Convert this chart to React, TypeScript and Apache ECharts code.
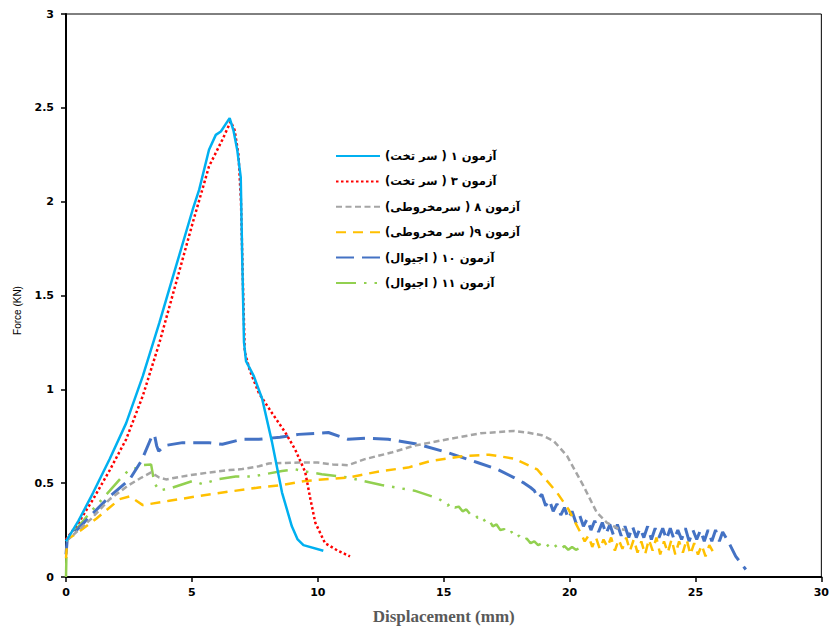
import React, { useEffect, useRef } from "react";
import * as echarts from "echarts";

const xTicks = { min: 0, max: 30, interval: 5 };
const yTicks = { min: 0, max: 3, interval: 0.5 };

const seriesNames = [
  "آزمون ۱ ( سر تخت)\u200F",
  "آزمون ۳ ( سر تخت)\u200F",
  "آزمون ۸ ( سرمخروطی)\u200F",
  "آزمون ۹( سر مخروطی)\u200F",
  "آزمون ۱۰ ( اجیوال)\u200F",
  "آزمون ۱۱ ( اجیوال)\u200F",
];

const test1: [number, number][] = [
  [0, 0.19], [0.5, 0.3], [1.08, 0.45], [1.74, 0.63], [2.39, 0.82], [3.05, 1.07],
  [3.71, 1.355], [4.37, 1.656], [5.03, 1.957], [5.29, 2.064], [5.68, 2.277], [5.95, 2.356],
  [6.15, 2.374], [6.5, 2.445], [6.65, 2.38], [6.8, 2.277], [6.94, 2.13], [7.0, 1.69],
  [7.07, 1.25], [7.15, 1.15], [7.46, 1.07], [7.79, 0.95], [8.18, 0.72], [8.58, 0.45],
  [8.97, 0.27], [9.2, 0.2], [9.43, 0.17], [10.22, 0.14],
];

const test3: [number, number][] = [
  [0, 0.2], [0.5, 0.29], [1.08, 0.415], [1.74, 0.57], [2.39, 0.734], [3.05, 0.965],
  [3.71, 1.248], [4.37, 1.567], [5.03, 1.886], [5.68, 2.188], [6.21, 2.33], [6.54, 2.427],
  [6.7, 2.38], [6.85, 2.25], [6.95, 2.0], [7.02, 1.6], [7.1, 1.2], [7.3, 1.1], [7.66, 0.98],
  [8.2, 0.87], [8.71, 0.77], [9.1, 0.68], [9.5, 0.56], [9.7, 0.42], [9.9, 0.29],
  [10.29, 0.18], [10.8, 0.14], [11.28, 0.11],
];

const test8: [number, number][] = [
  [0, 0.19], [0.5, 0.25], [1.0, 0.31], [1.74, 0.415], [2.5, 0.49], [3.0, 0.53],
  [3.38, 0.557], [3.7, 0.53], [3.97, 0.52], [4.8, 0.54], [5.68, 0.557], [6.5, 0.57],
  [7.0, 0.575], [7.66, 0.59], [8.05, 0.605], [9.24, 0.61], [10.0, 0.61], [10.6, 0.6],
  [11.2, 0.596], [11.87, 0.628], [12.92, 0.663], [13.84, 0.7], [15.16, 0.734],
  [16.47, 0.766], [17.79, 0.778], [18.32, 0.77], [18.9, 0.755], [19.37, 0.725],
  [19.9, 0.645], [20.55, 0.486], [21.08, 0.344], [21.48, 0.29], [21.9, 0.26], [22.2, 0.25],
];

const test9: [number, number][] = [
  [0, 0.1], [0.05, 0.2], [0.5, 0.24], [1.2, 0.31], [2.13, 0.415], [2.53, 0.43],
  [2.75, 0.41], [3.05, 0.383], [4.1, 0.406], [5.68, 0.44], [7.66, 0.477], [8.58, 0.49],
  [9.5, 0.512], [11.2, 0.53], [12.53, 0.565], [13.58, 0.583], [14.5, 0.619],
  [15.82, 0.645], [16.8, 0.652], [17.79, 0.631], [18.71, 0.574], [19.5, 0.45],
  [19.96, 0.36], [20.42, 0.24], [20.6, 0.19], [20.75, 0.22], [20.9, 0.16], [21.05, 0.21],
  [21.2, 0.15], [21.35, 0.2], [21.5, 0.16], [21.65, 0.21], [21.8, 0.14], [21.95, 0.2],
  [22.1, 0.15], [22.25, 0.21], [22.4, 0.14], [22.55, 0.2], [22.7, 0.13], [22.85, 0.19],
  [23.0, 0.12], [23.15, 0.2], [23.3, 0.14], [23.45, 0.21], [23.6, 0.12], [23.75, 0.19],
  [23.9, 0.13], [24.05, 0.2], [24.2, 0.12], [24.35, 0.19], [24.5, 0.13], [24.65, 0.2],
  [24.8, 0.12], [24.95, 0.18], [25.1, 0.12], [25.25, 0.17], [25.4, 0.11], [25.55, 0.17],
  [25.8, 0.11],
];

const test10: [number, number][] = [
  [0, 0.12], [0.05, 0.2], [0.5, 0.26], [1.0, 0.33], [1.74, 0.43], [2.53, 0.52],
  [3.0, 0.62], [3.38, 0.74], [3.51, 0.76], [3.6, 0.7], [3.68, 0.67], [3.91, 0.7],
  [4.63, 0.716], [5.68, 0.716], [6.21, 0.707], [7.0, 0.734], [7.66, 0.734], [8.5, 0.745],
  [9.24, 0.76], [9.9, 0.765], [10.42, 0.77], [11.2, 0.734], [12.0, 0.74], [12.8, 0.734],
  [13.98, 0.707], [15.16, 0.663], [16.34, 0.61], [17.13, 0.574], [17.79, 0.53],
  [18.2, 0.5], [18.45, 0.477], [18.6, 0.46], [18.75, 0.42], [18.9, 0.44], [19.05, 0.38],
  [19.2, 0.41], [19.35, 0.35], [19.5, 0.39], [19.65, 0.33], [19.8, 0.37], [19.95, 0.31],
  [20.1, 0.35], [20.25, 0.29], [20.4, 0.33], [20.55, 0.27], [20.7, 0.31], [20.85, 0.25],
  [21.0, 0.3], [21.15, 0.24], [21.3, 0.29], [21.45, 0.23], [21.6, 0.28], [21.75, 0.22],
  [21.9, 0.28], [22.05, 0.22], [22.2, 0.27], [22.35, 0.21], [22.5, 0.27], [22.65, 0.21],
  [22.8, 0.26], [22.95, 0.21], [23.1, 0.27], [23.25, 0.2], [23.4, 0.26], [23.55, 0.21],
  [23.7, 0.26], [23.85, 0.2], [24.0, 0.26], [24.15, 0.2], [24.3, 0.25], [24.45, 0.2],
  [24.6, 0.26], [24.75, 0.19], [24.9, 0.25], [25.05, 0.2], [25.2, 0.25], [25.35, 0.19],
  [25.5, 0.25], [25.65, 0.19], [25.8, 0.25], [25.95, 0.19], [26.08, 0.24], [26.3, 0.19],
  [26.6, 0.11], [27.0, 0.04],
];

const test11: [number, number][] = [
  [0, 0], [0.03, 0.2], [0.5, 0.27], [1.0, 0.35], [1.74, 0.46], [2.2, 0.53],
  [2.53, 0.574], [2.8, 0.58], [3.0, 0.595], [3.38, 0.6], [3.51, 0.5], [3.71, 0.46],
  [4.24, 0.477], [5.03, 0.512], [5.42, 0.495], [6.0, 0.52], [6.74, 0.535], [7.4, 0.535],
  [8.58, 0.565], [9.1, 0.574], [9.6, 0.56], [10.16, 0.548], [11.2, 0.53], [12.53, 0.49],
  [13.84, 0.46], [14.77, 0.419], [15.0, 0.4], [15.15, 0.38], [15.3, 0.395], [15.45, 0.37],
  [15.6, 0.375], [15.75, 0.35], [15.9, 0.36], [16.05, 0.335], [16.2, 0.34], [16.35, 0.315],
  [16.5, 0.325], [16.65, 0.295], [16.8, 0.305], [16.95, 0.27], [17.1, 0.28], [17.25, 0.25],
  [17.4, 0.255], [17.55, 0.23], [17.7, 0.24], [17.85, 0.21], [18.0, 0.22], [18.15, 0.195],
  [18.3, 0.205], [18.45, 0.18], [18.6, 0.19], [18.75, 0.17], [18.9, 0.18], [19.05, 0.16],
  [19.2, 0.175], [19.35, 0.155], [19.5, 0.17], [19.65, 0.15], [19.8, 0.165], [19.95, 0.145],
  [20.1, 0.16], [20.25, 0.145], [20.42, 0.155],
];

const seriesData = [test1, test3, test8, test9, test10, test11];
const seriesColors = ["#00B0F0", "#FF0000", "#A5A5A5", "#FFC000", "#4472C4", "#92D050"];
const seriesWidths = [2.5, 2.5, 2.5, 2.5, 3, 2.5];
const seriesDash: any[] = [
  "solid",
  [2.5, 2.5],
  [6, 3.5],
  [10, 7],
  [18, 8],
  [20, 8, 2.5, 8, 2.5, 8],
];

export default function App() {
  const ref = useRef<HTMLDivElement>(null);
  useEffect(() => {
    if (!ref.current) return;
    const chart = echarts.init(ref.current, undefined, { renderer: "svg" });
    chart.setOption({
      animation: false,
      backgroundColor: "#ffffff",
      grid: {
        left: 66,
        right: 6,
        top: 14,
        bottom: 52,
        show: true,
        borderColor: "#000",
        borderWidth: 1,
        backgroundColor: "transparent",
      },
      legend: {
        orient: "vertical",
        left: 335,
        top: 150,
        padding: 0,
        itemWidth: 44,
        itemHeight: 14,
        itemGap: 13.4,
        itemStyle: { opacity: 0 },
        data: seriesNames,
        textStyle: {
          fontFamily: "DejaVu Sans",
          fontSize: 11.5,
          fontWeight: "bold",
          color: "#000",
        },
      },
      xAxis: {
        type: "value",
        min: xTicks.min,
        max: xTicks.max,
        interval: xTicks.interval,
        name: "Displacement (mm)",
        nameLocation: "middle",
        nameGap: 31,
        nameTextStyle: {
          fontFamily: "Liberation Serif",
          fontWeight: "bold",
          fontSize: 17,
          color: "#595959",
        },
        axisLine: { show: true, lineStyle: { color: "#000", width: 2 } },
        axisTick: { show: true, inside: false, length: 5, lineStyle: { color: "#000", width: 1.5 } },
        axisLabel: {
          margin: 10,
          fontFamily: "DejaVu Sans",
          fontWeight: "bold",
          fontSize: 11,
          color: "#000",
        },
        splitLine: { show: false },
      },
      yAxis: {
        type: "value",
        min: yTicks.min,
        max: yTicks.max,
        interval: yTicks.interval,
        name: "Force (KN)",
        nameLocation: "middle",
        nameGap: 44,
        nameTextStyle: {
          fontFamily: "Liberation Sans Narrow, Liberation Sans",
          fontSize: 10,
          color: "#000",
          padding: [0, 30, 0, 0],
        },
        axisLine: { show: true, lineStyle: { color: "#000", width: 2 } },
        axisTick: { show: true, inside: false, length: 5, lineStyle: { color: "#000", width: 1.5 } },
        axisLabel: {
          margin: 12,
          fontFamily: "DejaVu Sans",
          fontWeight: "bold",
          fontSize: 11,
          color: "#000",
        },
        splitLine: { show: false },
      },
      series: seriesData.map((d, i) => ({
        name: seriesNames[i],
        type: "line",
        data: d,
        symbol: "none",
        smooth: false,
        lineStyle: {
          color: seriesColors[i],
          width: seriesWidths[i],
          type: seriesDash[i],
          cap: "butt",
        },
        itemStyle: { color: seriesColors[i] },
        z: 10 - i,
      })),
    });
    return () => chart.dispose();
  }, []);
  return (
    <div
      ref={ref}
      style={{ position: "absolute", left: 0, top: 0, width: 832, height: 630 }}
    />
  );
}
